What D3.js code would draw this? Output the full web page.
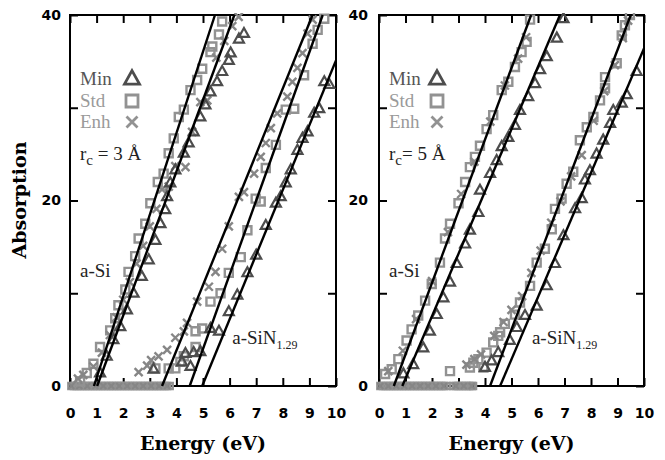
<!DOCTYPE html>
<html>
<head>
<meta charset="utf-8">
<script src="https://cdn.jsdelivr.net/npm/d3@7"></script>
<style>
  body { margin: 0; background: #fff; }
</style>
</head>
<body>
<svg id="chart" width="665" height="460"></svg>
<script>
// ticks
var xTicks = [0, 1, 2, 3, 4, 5, 6, 7, 8, 9, 10];
var yTicks = [0, 10, 20, 30, 40];
var yTickLabels = [0, 20, 40];

// r_c = 3 A panel, [energy, absorption]
var leftSiMin = [[1.13,1.4],[1.38,3.2],[1.63,5.0],[1.89,6.4],[2.14,8.2],[2.39,10.0],[2.7,11.8],[2.96,13.6],[3.21,15.7],[3.4,17.5],[3.58,19.0],[3.65,20.4],[3.77,21.9],[3.96,23.3],[4.28,25.1],[4.46,26.2],[4.65,27.4],[4.9,29.0],[5.09,30.3],[5.28,31.7],[5.53,32.8],[5.72,33.9],[5.97,35.1],[6.04,35.9],[6.35,37.4],[6.54,38.0]];
var leftSiStd = [[0.38,0.5],[0.63,1.4],[0.88,2.4],[1.13,4.2],[1.51,6.0],[1.7,7.3],[1.82,8.7],[2.08,10.4],[2.2,12.3],[2.45,14.0],[2.58,15.9],[2.83,17.5],[3.02,19.7],[3.3,22.0],[3.52,22.9],[3.71,25.1],[3.9,26.7],[4.09,29.0],[4.28,29.8],[4.53,31.9],[4.78,33.0],[4.97,34.2],[5.28,36.0],[5.35,36.6],[5.6,37.9],[5.72,39.3]];
var leftSiEnh = [[0.3,0.8],[0.5,1.2],[0.88,2.1],[1.2,3.6],[1.5,5.5],[1.75,7.4],[2.0,9.3],[2.25,11.2],[2.5,13.2],[2.75,15.1],[3.0,17.2],[3.25,19.1],[3.46,21.2],[3.71,21.5],[3.96,23.7],[4.34,23.6],[4.59,27.4],[4.9,30.6],[5.16,30.8],[5.5,35.4],[5.8,37.2],[6.1,38.8],[6.34,39.8]];
var leftSiNMin = [[3.14,1.8],[4.21,2.6],[4.34,3.5],[4.53,2.1],[4.65,3.6],[4.9,3.7],[5.28,6.2],[5.6,5.9],[5.97,8.0],[6.29,9.8],[6.67,12.2],[7.0,14.1],[7.36,17.3],[7.74,19.7],[7.92,20.4],[8.11,21.9],[8.3,23.3],[8.55,25.4],[8.74,26.7],[8.93,27.4],[9.18,29.4],[9.37,29.9],[9.56,32.8],[9.75,32.5]];
var leftSiNStd = [[3.21,1.9],[3.71,1.9],[3.96,1.9],[4.15,2.6],[4.28,3.2],[4.72,4.2],[4.72,5.9],[4.97,6.2],[5.28,9.1],[5.66,10.0],[5.97,12.2],[6.42,13.9],[6.67,16.8],[6.98,20.2],[7.17,19.9],[7.36,23.5],[7.74,26.0],[8.11,29.8],[8.43,29.9],[8.8,33.5],[9.12,36.9],[9.31,38.4],[9.56,39.6]];
var leftSiNEnh = [[2.58,1.5],[2.9,2.2],[3.05,2.8],[3.33,3.2],[3.65,3.9],[3.96,5.2],[4.28,5.9],[4.4,6.8],[4.78,9.1],[5.22,10.7],[5.47,12.3],[5.72,14.8],[5.97,17.2],[6.35,20.4],[6.54,20.9],[6.92,22.9],[7.17,24.7],[7.36,26.2],[7.55,27.8],[7.79,29.4],[8.17,31.2],[8.36,32.8],[8.55,34.3],[8.74,35.9],[8.93,38.0],[9.12,39.5]];
var leftZeroE = [0.05,0.15,0.25,0.35,0.45,0.55,0.65,0.75,0.85,0.95,1.05,1.15,1.25,1.35,1.45,1.55,1.65,1.75,1.85,1.95,2.05,2.15,2.25,2.35,2.45,2.55,2.65,2.75,2.85,2.95,3.05,3.15,3.25,3.35,3.45,3.55,3.65,3.75];
// fitted lines: [e0, a0, e1, a1]
var leftFits = [[0.9,0,5.45,40],[1.02,0,6.18,40],[3.46,0,9.12,40],[4.5,0,9.5,40],[4.97,0,10,35.1]];

// r_c = 5 A panel
var rightSiMin = [[0.92,1.3],[1.29,2.3],[1.67,4.1],[1.92,5.9],[2.18,7.7],[2.43,9.5],[2.68,11.2],[2.93,13.2],[3.25,15.3],[3.43,16.8],[3.75,18.7],[3.81,21.1],[4.19,22.9],[4.44,24.3],[4.63,25.8],[4.88,26.8],[5.13,28.1],[5.32,29.7],[5.63,31.2],[5.89,32.6],[6.08,34.1],[6.33,35.5],[6.71,37.5],[6.96,39.6]];
var rightSiStd = [[0.23,1.3],[0.48,1.8],[0.73,2.9],[1.04,4.9],[1.23,6.1],[1.48,7.6],[1.74,9.2],[1.99,11.0],[2.3,13.3],[2.49,15.9],[2.68,17.5],[3.0,19.7],[3.25,22.0],[3.43,23.6],[3.62,24.7],[3.81,25.9],[4.06,27.7],[4.31,29.2],[4.63,31.9],[4.88,32.8],[5.13,34.4],[5.38,36.0],[5.57,37.1],[5.7,39.5],[2.68,1.6]];
var rightSiEnh = [[0.35,1.6],[0.9,3.8],[1.4,7.2],[2.0,11.3],[2.6,16.6],[3.1,20.7],[3.6,24.2],[4.2,28.5],[4.75,32.4],[5.25,35.3],[5.55,37.6]];
var rightSiNMin = [[4.0,2.0],[4.25,2.7],[4.5,3.6],[4.94,4.9],[5.2,6.3],[5.51,7.6],[5.95,8.6],[6.33,10.8],[6.64,13.2],[6.96,16.2],[7.4,19.1],[7.65,20.2],[7.77,22.2],[7.96,23.2],[8.21,25.0],[8.46,26.5],[8.72,28.3],[8.84,29.7],[9.16,30.5],[9.35,31.4],[9.72,33.9]];
var rightSiNStd = [[3.43,2.0],[3.56,2.5],[3.75,2.9],[3.94,2.0],[4.06,3.6],[4.31,4.7],[4.5,5.4],[4.57,5.8],[4.75,6.7],[5.13,7.7],[5.32,9.0],[5.7,10.8],[5.95,13.3],[6.26,14.8],[6.52,16.9],[6.64,19.1],[6.89,20.2],[7.08,21.8],[7.33,23.1],[7.58,26.5],[7.84,27.9],[8.09,29.0],[8.34,30.8],[8.53,32.1],[8.53,33.3],[8.97,34.8],[9.16,37.8],[9.28,38.9],[9.47,40.0]];
var rightSiNEnh = [[3.3,2.3],[3.6,2.9],[3.85,3.4],[4.35,5.4],[4.7,6.9],[5.0,8.2],[5.4,9.7],[5.75,12.2],[6.1,14.6],[6.5,17.6],[6.85,19.9],[7.25,22.6],[7.65,24.9],[8.1,28.6],[8.5,31.8],[8.9,34.6],[9.2,37.5],[9.4,39.4]];
var rightZeroE = [0.05,0.15,0.25,0.35,0.45,0.55,0.65,0.75,0.85,0.95,1.05,1.15,1.25,1.35,1.45,1.55,1.65,1.75,1.85,1.95,2.05,2.15,2.25,2.35,2.45,2.55,2.8,2.9,3.0,3.1,3.2,3.3,3.4,3.5,3.55];
var rightFits = [[0.56,0,5.74,40],[0.88,0,6.83,40],[4.19,0,9.5,40],[4.57,0,10,36.4]];

var seriesNames = ["Min", "Std", "Enh"];

var svg = d3.select("#chart");
var plotTop = 15, plotBottom = 386;

var colMin = "#4d4d4d", colStd = "#929292", colEnh = "#868686";

function tri(w) { var h = w * 0.9; return "M0," + (-h * 0.62) + "L" + (w / 2) + "," + (h * 0.38) + "L" + (-w / 2) + "," + (h * 0.38) + "Z"; }
function sq(w) { var r = w / 2; return "M" + (-r) + "," + (-r) + "h" + w + "v" + w + "h" + (-w) + "Z"; }
function cross(w) { var r = w / 2; return "M" + (-r) + "," + (-r) + "L" + r + "," + r + "M" + (-r) + "," + r + "L" + r + "," + (-r); }

function makePanel(p) {
  var x = d3.scaleLinear().domain([0, 10]).range([p.x0, p.x1]);
  var y = d3.scaleLinear().domain([0, 40]).range([plotBottom, plotTop]);
  var g = svg.append("g");

  var clipId = "clip" + p.id;
  svg.append("clipPath").attr("id", clipId).append("rect")
    .attr("x", p.x0 - 6).attr("y", plotTop - 2).attr("width", p.x1 - p.x0 + 6).attr("height", plotBottom - plotTop + 8);

  // axes, ticks inward
  var bx = g.append("g").attr("transform", "translate(0," + plotBottom + ")")
    .call(d3.axisBottom(x).tickValues(xTicks).tickSize(-8).tickPadding(22).tickFormat(d3.format("d")));
  var tx = g.append("g").attr("transform", "translate(0," + plotTop + ")")
    .call(d3.axisTop(x).tickValues(xTicks).tickSize(-8).tickFormat(""));
  var ly = g.append("g").attr("transform", "translate(" + p.x0 + ",0)")
    .call(d3.axisLeft(y).tickValues(yTicks).tickSize(-8).tickPadding(p.ypad)
      .tickFormat(function(d) { return yTickLabels.indexOf(d) >= 0 ? d : ""; }));
  var ry = g.append("g").attr("transform", "translate(" + p.x1 + ",0)")
    .call(d3.axisRight(y).tickValues(yTicks).tickSize(-8).tickFormat(""));
  [bx, tx, ly, ry].forEach(function(a) {
    a.select(".domain").remove();
    a.selectAll(".tick line").attr("stroke", "#000").attr("stroke-width", 2);
    a.selectAll("text").attr("fill", "#000")
      .style("font-family", "'DejaVu Sans', sans-serif").style("font-weight", "bold").style("font-size", "14px");
  });

  g.append("rect").attr("x", p.x0).attr("y", plotTop).attr("width", p.x1 - p.x0).attr("height", plotBottom - plotTop)
    .attr("fill", "none").attr("stroke", "#000").attr("stroke-width", 2);

  var plot = g.append("g").attr("clip-path", "url(#" + clipId + ")");

  // zero row of markers
  plot.selectAll(".z0").data(p.zero).enter().append("path")
    .attr("d", sq(6)).attr("transform", function(d) { return "translate(" + x(d) + "," + y(0) + ")"; })
    .attr("fill", "none").attr("stroke", colStd).attr("stroke-width", 2.4);
  plot.selectAll(".z1").data(p.zero.filter(function(d, i) { return i % 3 === 0; })).enter().append("path")
    .attr("d", cross(6)).attr("transform", function(d) { return "translate(" + x(d) + "," + y(0) + ")"; })
    .attr("fill", "none").attr("stroke", colEnh).attr("stroke-width", 2);

  function pts(data, shape, col, sw) {
    plot.append("g").selectAll("path").data(data).enter().append("path")
      .attr("d", shape)
      .attr("transform", function(d) { return "translate(" + x(d[0]) + "," + y(d[1]) + ")"; })
      .attr("fill", "none").attr("stroke", col).attr("stroke-width", sw);
  }
  pts(p.std, sq(8), colStd, 2.4);
  pts(p.enh, cross(8), colEnh, 2.4);
  pts(p.min, tri(10), colMin, 2.2);

  plot.selectAll(".fit").data(p.fits).enter().append("line")
    .attr("x1", function(d) { return x(d[0]); }).attr("y1", function(d) { return y(d[1]); })
    .attr("x2", function(d) { return x(d[2]); }).attr("y2", function(d) { return y(d[3]); })
    .attr("stroke", "#000").attr("stroke-width", 2.4);

  // legend
  var lg = g.append("g").style("font-family", "'Liberation Serif', 'Times New Roman', serif").style("font-size", "19px");
  var legCols = ["#555", "#9a9a9a", "#9a9a9a"];
  var legShapes = [tri(15), sq(12), cross(11)];
  var legY = [85, 107, 128];
  seriesNames.forEach(function(s, i) {
    lg.append("text").attr("x", p.x0 + 10).attr("y", legY[i]).attr("fill", legCols[i]).text(s);
    lg.append("path").attr("d", legShapes[i])
      .attr("transform", "translate(" + (p.x0 + p.legM) + "," + (legY[i] - 6) + ")")
      .attr("fill", "none").attr("stroke", i === 0 ? colMin : colStd).attr("stroke-width", 2.8);
  });
  var rc = lg.append("text").attr("x", p.x0 + 10).attr("y", 160).attr("fill", "#222");
  rc.append("tspan").text("r");
  rc.append("tspan").attr("dy", 5).style("font-size", "15px").text("c");
  rc.append("tspan").attr("dy", -5).text(p.rc);

  lg.append("text").attr("x", p.x0 + 10).attr("y", 277).attr("fill", "#222").text("a-Si");
  var sn = lg.append("text").attr("x", x(p.snE)).attr("y", 344).attr("fill", "#222");
  sn.append("tspan").text("a-SiN");
  sn.append("tspan").attr("dy", 5).style("font-size", "12px").text("1.29");

  g.append("text").attr("x", (p.x0 + p.x1) / 2).attr("y", 450).attr("text-anchor", "middle")
    .style("font-family", "'DejaVu Serif', serif").style("font-weight", "bold").style("font-size", "19px")
    .text("Energy (eV)");
}

makePanel({ id: "L", x0: 70, x1: 336, ypad: 9, legM: 62, rc: " = 3 \u00C5", snE: 6.1,
  min: leftSiMin.concat(leftSiNMin), std: leftSiStd.concat(leftSiNStd), enh: leftSiEnh.concat(leftSiNEnh),
  zero: leftZeroE, fits: leftFits });
makePanel({ id: "R", x0: 379, x1: 644, ypad: 11, legM: 58, rc: "= 5 \u00C5", snE: 5.77,
  min: rightSiMin.concat(rightSiNMin), std: rightSiStd.concat(rightSiNStd), enh: rightSiEnh.concat(rightSiNEnh),
  zero: rightZeroE, fits: rightFits });

svg.append("text").attr("transform", "translate(26,200) rotate(-90)").attr("text-anchor", "middle")
  .style("font-family", "'DejaVu Serif', serif").style("font-weight", "bold").style("font-size", "19px")
  .text("Absorption");
</script>
</body>
</html>
